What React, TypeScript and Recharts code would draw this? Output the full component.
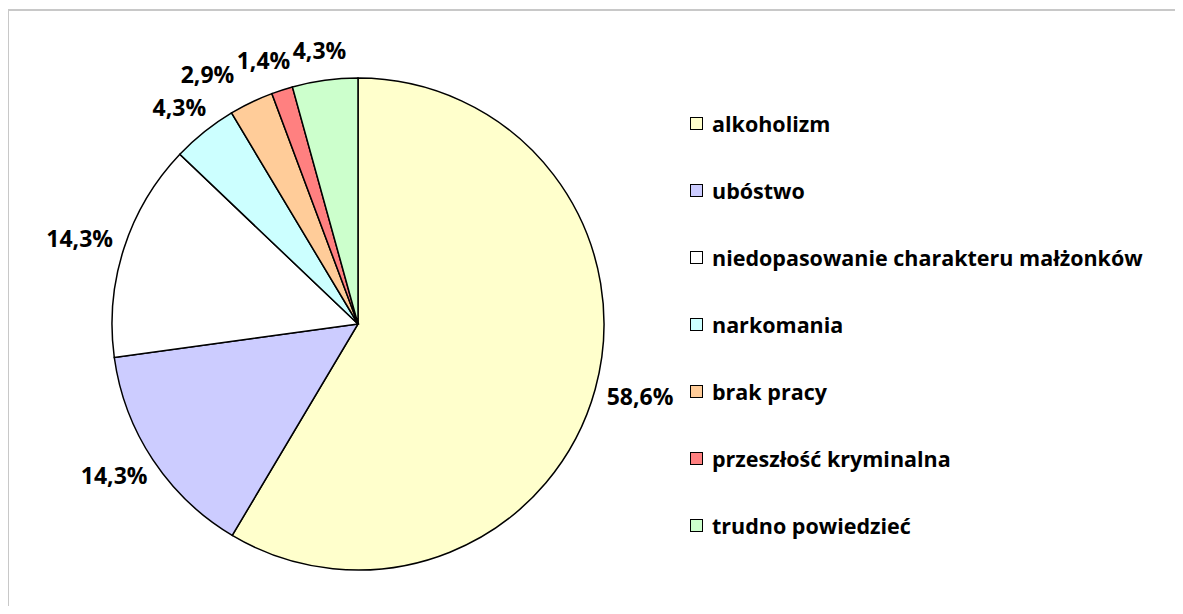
import { PieChart, Pie, Cell, Legend } from "recharts";

const categories = [
  "alkoholizm",
  "ubóstwo",
  "niedopasowanie charakteru małżonków",
  "narkomania",
  "brak pracy",
  "przeszłość kryminalna",
  "trudno powiedzieć",
];
const values = [58.6, 14.3, 14.3, 4.3, 2.9, 1.4, 4.3];
const colors = ["#FFFFCC", "#CCCCFF", "#FFFFFF", "#CCFFFF", "#FFCC99", "#FF8080", "#CCFFCC"];

const data = categories.map((name, i) => ({ name, value: values[i] }));

const FONT = "'Open Sans', 'Noto Sans', sans-serif";
const LABEL_SIZE = 23;
const LEGEND_SIZE = 21.5;
const RAD = Math.PI / 180;

const fmt = (v: number) => v.toFixed(1).replace(".", ",") + "%";

// outside-end labels like Excel: pushed off the rim, then shifted sideways
// when one would sit on top of a neighbour
function layoutLabels(cx: number, cy: number, R: number) {
  const total = values.reduce((a, b) => a + b, 0);
  let cum = 0;
  const boxes = values.map((v) => {
    const mid = 90 - ((cum + v / 2) / total) * 360;
    cum += v;
    const text = fmt(v);
    const w = text.length * 13;
    const h = 19;
    const ux = Math.cos(-mid * RAD);
    const uy = Math.sin(-mid * RAD);
    const r = R + 14;
    return { text, w, h, ux, x: cx + (r + w / 2) * ux, y: cy + (r + 16) * uy };
  });
  const placed: typeof boxes = [];
  for (let i = boxes.length - 1; i >= 0; i--) {
    const b = boxes[i];
    for (const p of placed) {
      const overlapY = Math.abs(b.y - p.y) < (b.h + p.h) / 2;
      const minDx = (b.w + p.w) / 2 + 4;
      if (overlapY && Math.abs(b.x - p.x) < minDx) {
        b.x = b.ux < 0 ? p.x - minDx : p.x + minDx;
      }
    }
    placed.push(b);
  }
  return boxes;
}

function renderLabel(props: any) {
  const { cx, cy, outerRadius, index } = props;
  const b = layoutLabels(cx, cy, outerRadius)[index];
  return (
    <text
      x={b.x}
      y={b.y + 8}
      textAnchor="middle"
      fill="#000"
      fontFamily={FONT}
      fontWeight={700}
      fontSize={LABEL_SIZE}
    >
      {b.text}
    </text>
  );
}

function LegendBox() {
  return (
    <div style={{ fontFamily: FONT, fontWeight: 700, fontSize: LEGEND_SIZE, color: "#000", lineHeight: 1 }}>
      {categories.map((c, i) => (
        <div key={c} style={{ height: 67, display: "flex", alignItems: "center" }}>
          <span
            style={{
              width: 11,
              height: 11,
              border: "1.5px solid #000",
              background: colors[i],
              marginRight: 9,
              display: "inline-block",
              flexShrink: 0,
            }}
          />
          <span>{c}</span>
        </div>
      ))}
    </div>
  );
}

const frameLine = { position: "absolute" as const, background: "#c8c8c8", pointerEvents: "none" as const };

export default function App() {
  return (
    <div style={{ position: "relative", width: 1160, height: 598 }}>
      <div style={{ ...frameLine, left: -1, top: 1, width: 1176, height: 2 }} />
      <div style={{ ...frameLine, left: -1, top: 1, width: 2, height: 597 }} />
      <PieChart width={1160} height={590}>
        <Pie
          data={data}
          dataKey="value"
          nameKey="name"
          cx={345}
          cy={311}
          outerRadius={246}
          startAngle={90}
          endAngle={-270}
          stroke="#000"
          strokeWidth={1.5}
          label={renderLabel}
          labelLine={false}
          isAnimationActive={false}
        >
          {data.map((d, i) => (
            <Cell key={d.name} fill={colors[i]} />
          ))}
        </Pie>
        <Legend
          layout="vertical"
          content={() => <LegendBox />}
          wrapperStyle={{ position: "absolute", left: 682, top: 82, width: 470 }}
        />
      </PieChart>
    </div>
  );
}
